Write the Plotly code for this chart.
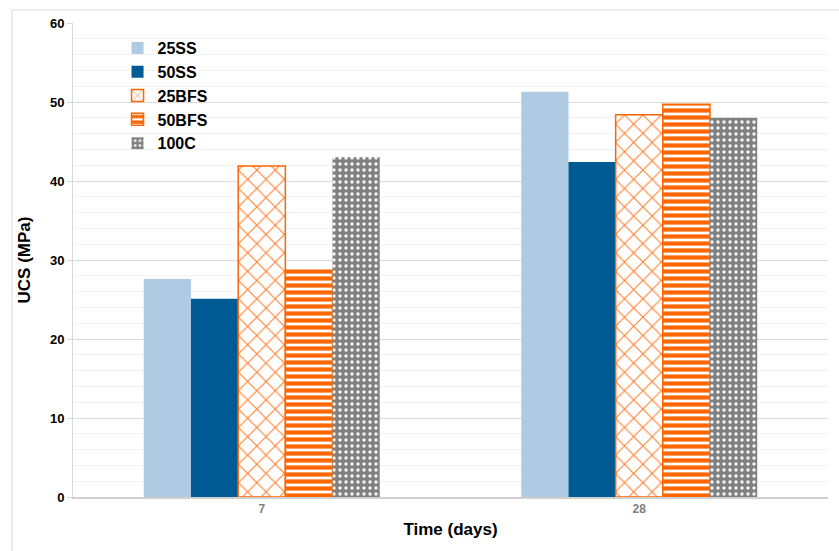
import plotly.graph_objects as go

# Curing time categories and strength results (MPa)
ages = ["7", "28"]
ucs_25ss = [27.6, 51.3]
ucs_50ss = [25.1, 42.4]
ucs_25bfs = [41.9, 48.4]
ucs_50bfs = [28.7, 49.7]
ucs_100c = [43.0, 48.0]

ORANGE = "#ff6600"

fig = go.Figure()
fig.add_trace(go.Bar(name="25SS", x=ages, y=ucs_25ss, marker=dict(color="#afcbe4", line=dict(width=0)),
                     legendgroup="a"))
fig.add_trace(go.Bar(name="50SS", x=ages, y=ucs_50ss, marker=dict(color="#005b94", line=dict(width=0)),
                     legendgroup="b"))
fig.add_trace(go.Bar(name="25BFS", x=ages, y=ucs_25bfs,
                     marker=dict(color="white", line=dict(color=ORANGE, width=1.5),
                                 pattern=dict(shape="x", fgcolor="#ff7a26", bgcolor="white", size=13,
                                              solidity=0.15, fgopacity=1)),
                     legendgroup="c"))
fig.add_trace(go.Bar(name="50BFS", x=ages, y=ucs_50bfs,
                     marker=dict(color="white", line=dict(color=ORANGE, width=1.5),
                                 pattern=dict(shape="-", fgcolor=ORANGE, bgcolor="white", size=7,
                                              solidity=0.6, fgopacity=1)),
                     legendgroup="d"))
fig.add_trace(go.Bar(name="100C", x=ages, y=ucs_100c,
                     marker=dict(color="#808080", line=dict(width=0),
                                 pattern=dict(shape=".", fgcolor="#f4f4f4", bgcolor="#808080", size=6,
                                              solidity=0.25, fgopacity=1)),
                     legendgroup="e"))

fig.update_layout(
    width=839, height=551,
    margin=dict(l=73, r=11, t=23, b=54),
    paper_bgcolor="white", plot_bgcolor="white",
    barmode="group", bargap=0.375, bargroupgap=0,
    font=dict(family="Liberation Sans, Arial, sans-serif", color="black"),
    showlegend=True,
    legend=dict(x=0.059, y=0.983, xanchor="left", yanchor="top",
                font=dict(size=16, color="black", family="Liberation Sans, Arial, sans-serif", weight="bold"),
                tracegroupgap=0, bgcolor="rgba(0,0,0,0)", itemwidth=30),
    xaxis=dict(
        title=dict(text="<b>Time (days)</b>", font=dict(size=17), standoff=8),
        tickfont=dict(size=12, color="#808080", weight="bold"),
        showline=True, linecolor="#d0d0d0", linewidth=1.5,
        ticks="", showgrid=False,
    ),
    yaxis=dict(
        title=dict(text="<b>UCS (MPa)</b>", font=dict(size=17), standoff=14),
        range=[0, 60], dtick=10,
        tickfont=dict(size=13, color="black", weight="bold"),
        showline=True, linecolor="#d9d9d9", linewidth=1,
        ticks="outside", ticklen=5, tickcolor="#d9d9d9",
        showgrid=True, gridcolor="#dcdcdc", gridwidth=1,
        zeroline=False,
        minor=dict(dtick=2, showgrid=True, gridcolor="#f2f2f2", gridwidth=1),
    ),
)

# Outer chart frame
fig.add_shape(type="rect", xref="paper", yref="paper",
              x0=(12 - 73) / 755, x1=1.3, y0=-0.5, y1=1 + 13 / 474,
              line=dict(color="#d9d9d9", width=1), fillcolor="rgba(0,0,0,0)", layer="below")

fig.write_html("out.html")
